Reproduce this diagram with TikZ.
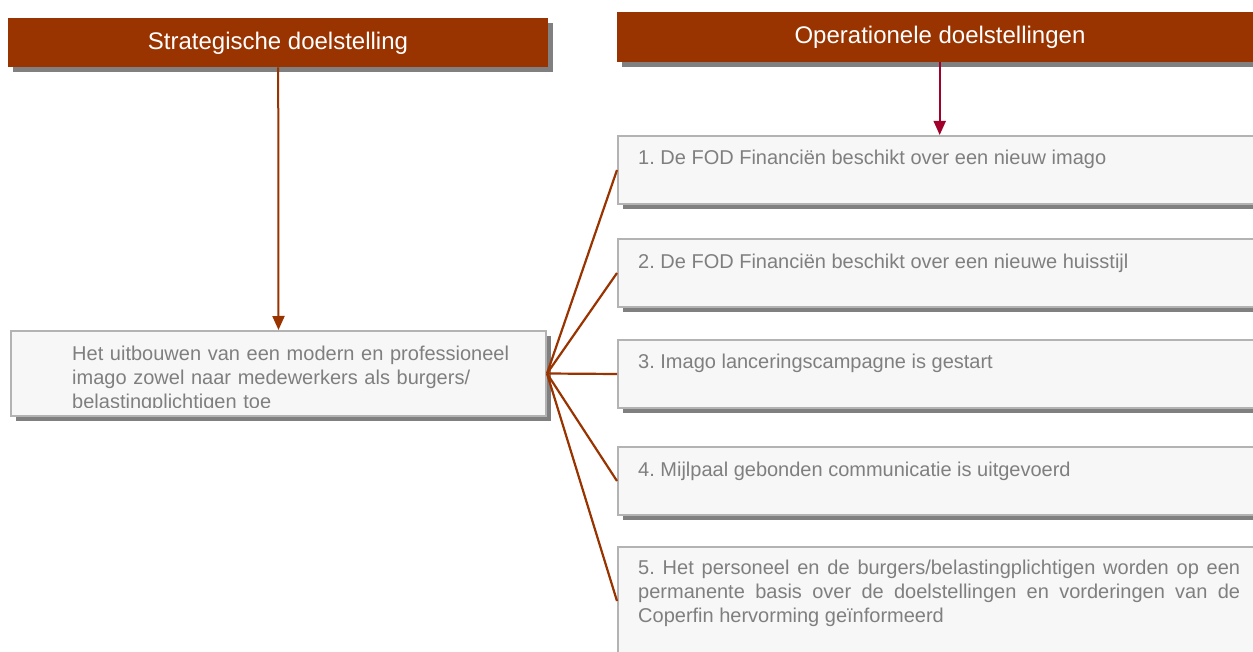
\documentclass[tikz,border=0pt]{standalone}
\usepackage{fontspec}
\setmainfont{Liberation Sans}
\usetikzlibrary{arrows.meta,shadows}
\definecolor{hdr}{HTML}{993300}
\definecolor{shd}{HTML}{808080}
\definecolor{bxf}{HTML}{F7F7F7}
\definecolor{bxd}{HTML}{B3B3B3}
\definecolor{txt}{HTML}{7F7F7F}
\definecolor{crim}{HTML}{A0002A}
\frenchspacing
\tikzset{
  hdrbox/.style={draw=none, fill=hdr, anchor=north west, inner sep=0pt,
    drop shadow={shadow xshift=5pt, shadow yshift=-5pt, opacity=1, fill=shd}},
  hdrtext/.style={text=white, inner sep=0pt, anchor=base, font=\fontsize{24}{28}\selectfont},
  gbox/.style={draw=bxd, line width=2pt, fill=bxf, anchor=north west, inner sep=0pt,
    drop shadow={shadow xshift=5pt, shadow yshift=-5pt, opacity=1, fill=shd}},
  gtext/.style={text=txt, inner sep=0pt, anchor=base west, font=\fontsize{20}{24}\selectfont},
  link/.style={draw=hdr, line width=2.2pt},
  arr/.style={line width=2pt, -{Triangle[width=12pt,length=14pt]}}
}
\begin{document}
\begin{tikzpicture}[x=1pt,y=-1pt]
\useasboundingbox (0,0) rectangle (1253,652);
\clip (0,0) rectangle (1253,652);
% headers
\node[hdrbox, minimum width=540pt, minimum height=49pt] (h1) at (8,18) {};
\node[hdrtext] (h1t) at (278,50) {Strategische doelstelling};
\node[hdrbox, minimum width=645pt, minimum height=50pt] (h2) at (617,12) {};
\node[hdrtext] (h2t) at (940,44) {Operationele doelstellingen};
% strategic box
\node[gbox, minimum width=535pt, minimum height=85pt] (sb) at (10,330) {};
\begin{scope}
\clip (10,330) rectangle (545,407);
\node[gtext, text width=470pt, align=left] (sbt) at (72,360) {Het uitbouwen van een modern en professioneel\\imago zowel naar medewerkers als burgers/\\belastingplichtigen toe};
\end{scope}
% operational boxes
\node[gbox, minimum width=660pt, minimum height=68pt] (b1) at (617,135) {};
\node[gbox, minimum width=660pt, minimum height=68pt] (b2) at (617,238) {};
\node[gbox, minimum width=660pt, minimum height=68pt] (b3) at (617,339) {};
\node[gbox, minimum width=660pt, minimum height=68pt] (b4) at (617,446) {};
\node[gbox, minimum width=660pt, minimum height=108pt] (b5) at (617,546) {};
\node[gtext] (t1) at (638,165) {1. De FOD Financiën beschikt over een nieuw imago};
\node[gtext] (t2) at (638,269) {2. De FOD Financiën beschikt over een nieuwe huisstijl};
\node[gtext] (t3) at (638,368) {3. Imago lanceringscampagne is gestart};
\node[gtext] (t4) at (638,476) {4. Mijlpaal gebonden communicatie is uitgevoerd};
\node[gtext, text width=602pt, align=justify] (t5) at (638,574) {5. Het personeel en de burgers/belastingplichtigen worden op een\linebreak permanente basis over de doelstellingen en vorderingen van de\linebreak Coperfin hervorming geïnformeerd};
% arrows
\draw[arr, draw=hdr, fill=hdr] (h1.south) -- (sb.north);
\draw[arr, draw=crim, fill=crim] (h2.south) -- (h2.south |- b1.north);
% links
\foreach \b in {b1,b2,b3,b4,b5}
  \draw[link] (sb.east) -- (\b.west);
\end{tikzpicture}
\end{document}
